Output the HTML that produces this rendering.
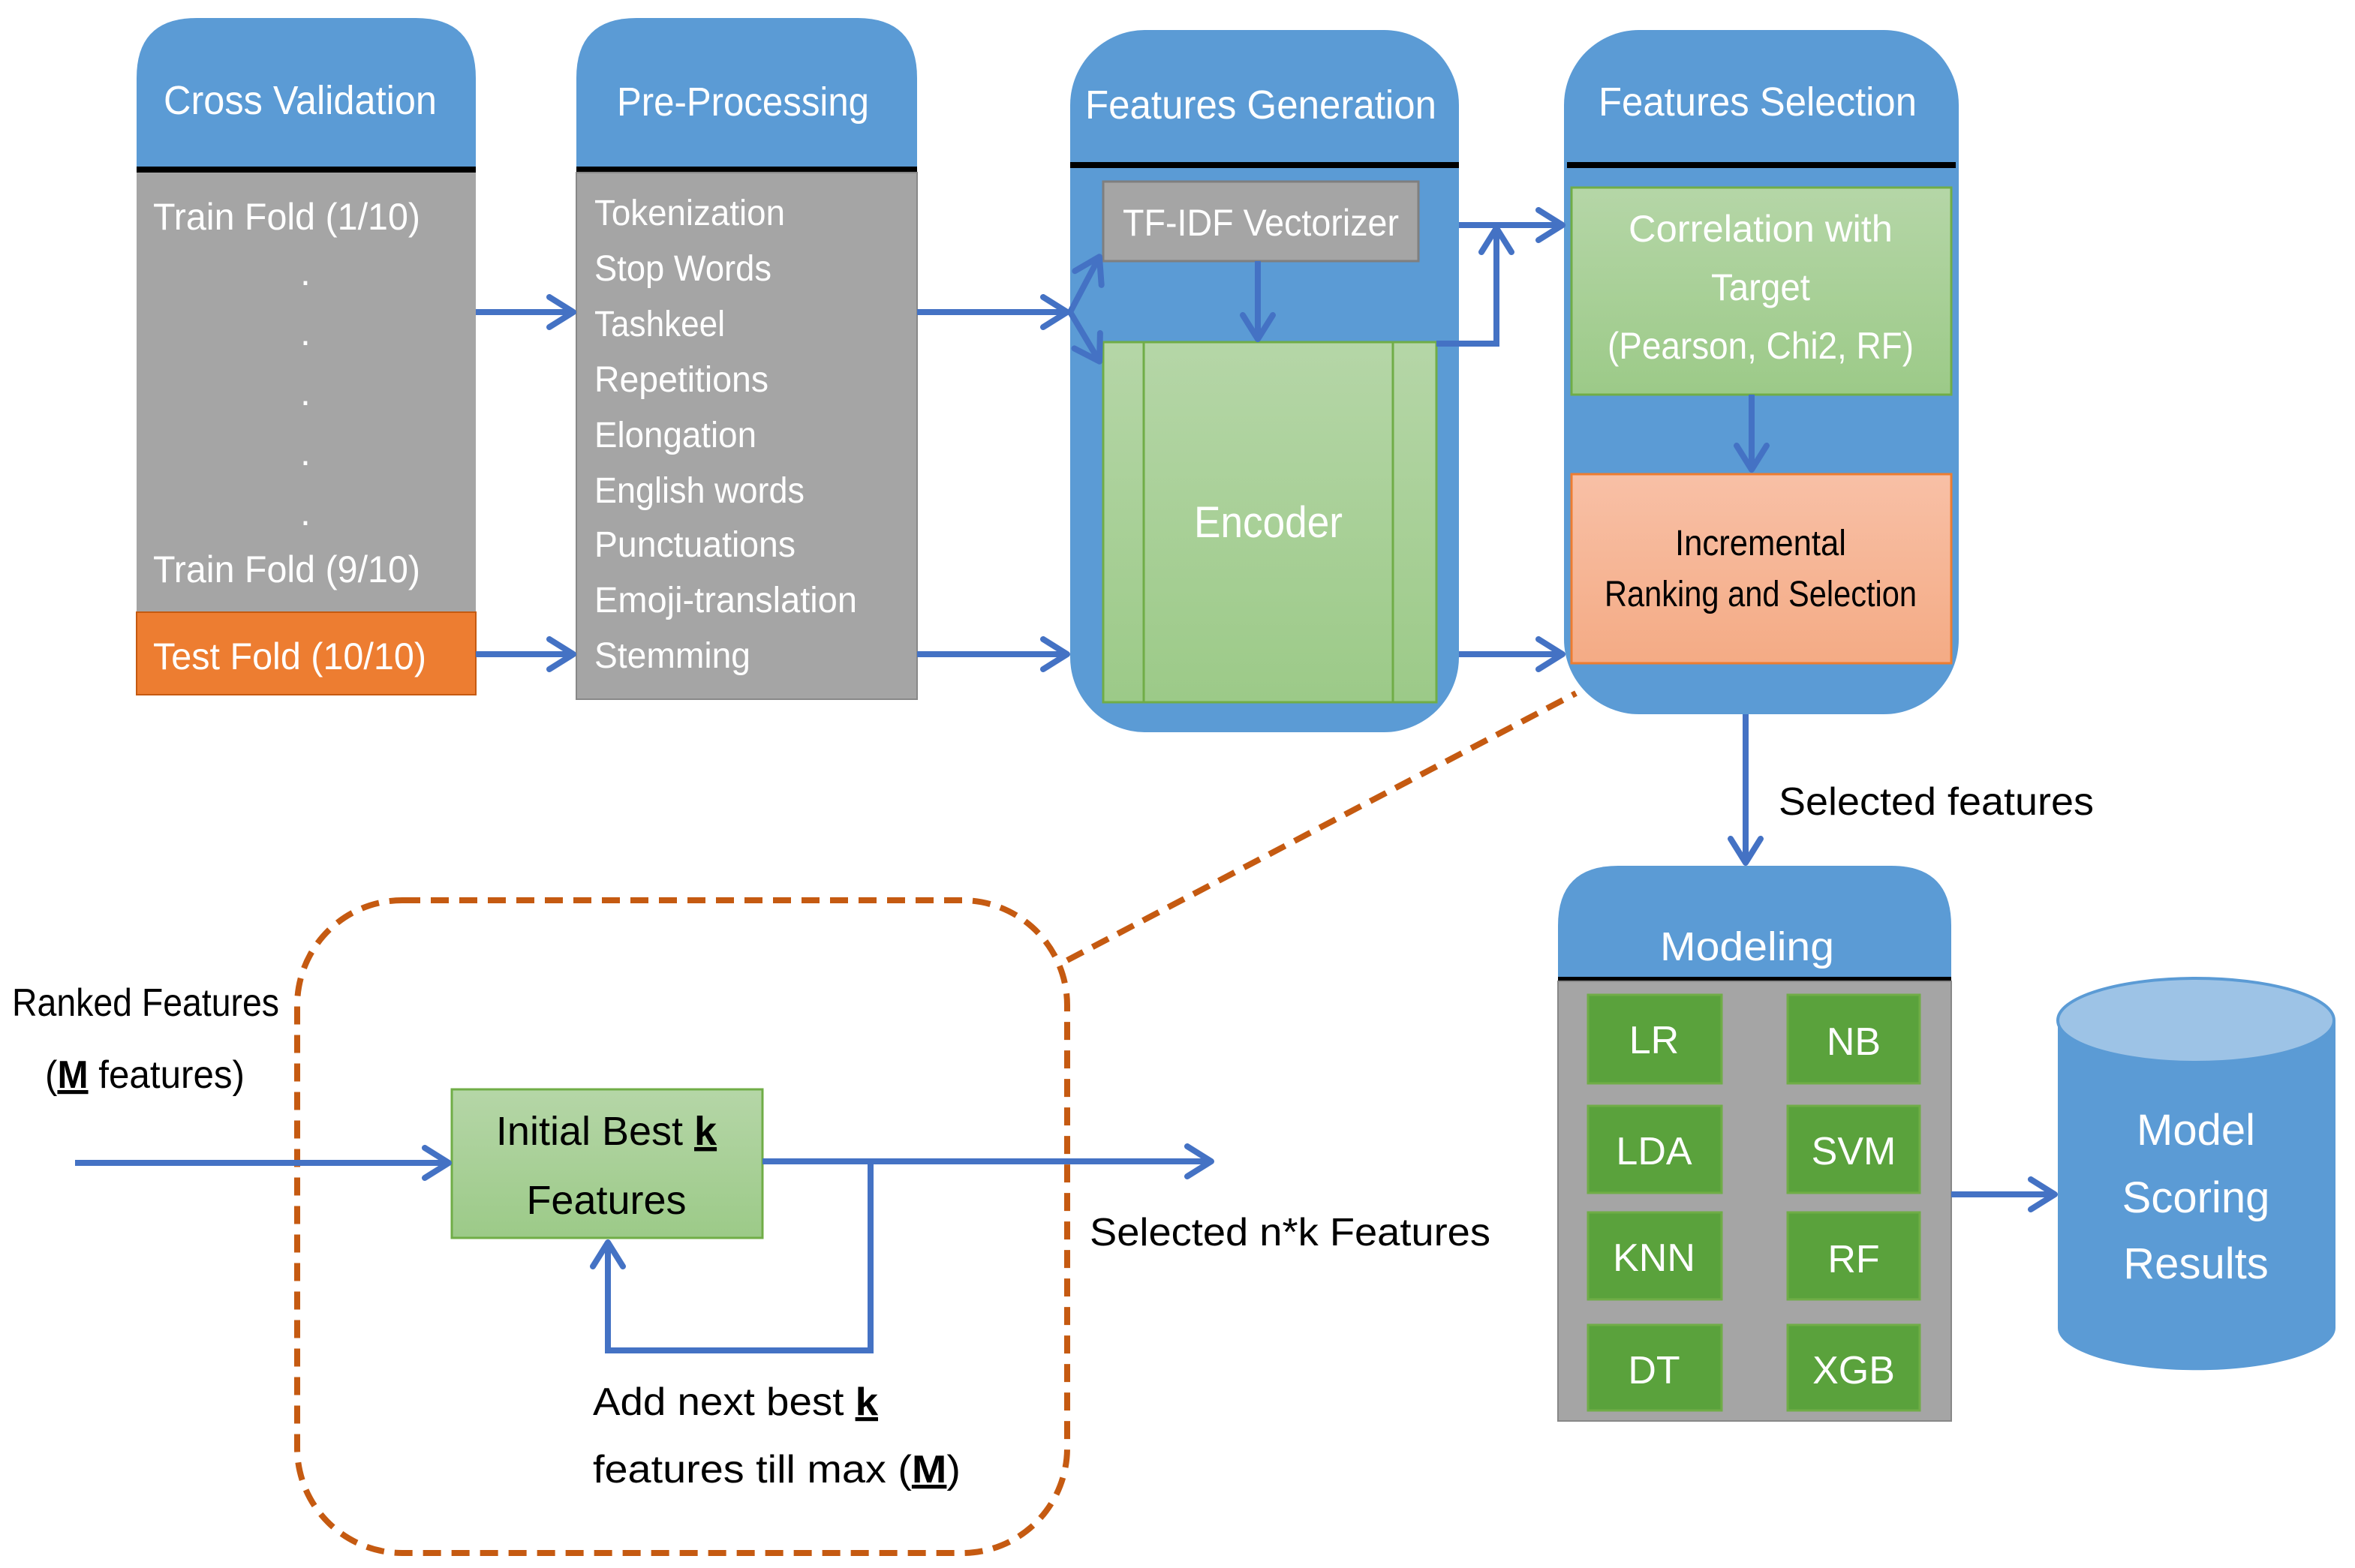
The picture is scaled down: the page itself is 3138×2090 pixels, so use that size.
<!DOCTYPE html>
<html><head><style>html,body{margin:0;padding:0;background:#fff}svg{display:block}text{font-family:"Liberation Sans",sans-serif}</style></head>
<body>
<svg width="3138" height="2090" viewBox="0 0 1569 1045" xmlns="http://www.w3.org/2000/svg">
<defs>
<marker id="b" markerWidth="24" markerHeight="24" refX="17" refY="12" orient="auto" markerUnits="userSpaceOnUse"><path d="M2,2 L18,12 L2,22" fill="none" stroke="#4472C4" stroke-width="4" stroke-linecap="round" stroke-linejoin="round"/></marker>
<linearGradient id="g" x1="0" y1="0" x2="0" y2="1"><stop offset="0" stop-color="#b5d6a7"/><stop offset="1" stop-color="#9cca88"/></linearGradient>
<linearGradient id="o" x1="0" y1="0" x2="0" y2="1"><stop offset="0" stop-color="#f8c0a6"/><stop offset="1" stop-color="#f4ab85"/></linearGradient>
</defs>
<g fill="#5B9BD5">
<path d="M91,113 V52 Q91,12 131,12 H277 Q317,12 317,52 V113Z"/>
<path d="M384,113 V52 Q384,12 424,12 H571 Q611,12 611,52 V113Z"/>
<rect x="713" y="20" width="259" height="468" rx="50"/>
<rect x="1042" y="20" width="263" height="456" rx="50"/>
<path d="M1038,652 V617 Q1038,577 1078,577 H1260 Q1300,577 1300,617 V652Z"/>
</g>
<g stroke="#000" stroke-width="4">
<line x1="91" y1="113" x2="317" y2="113"/><line x1="384" y1="113" x2="611" y2="113"/>
<line x1="713" y1="110" x2="972" y2="110"/><line x1="1044" y1="110" x2="1303" y2="110"/>
<line x1="1038" y1="653" x2="1300" y2="653"/>
</g>
<rect x="91" y="115" width="226" height="293" fill="#a5a5a5"/>
<rect x="91" y="408" width="226" height="55" fill="#ED7D31" stroke="#c55a11"/>
<rect x="384" y="115" width="227" height="351" fill="#a5a5a5" stroke="#888"/>
<rect x="735" y="121" width="210" height="53" fill="#a5a5a5" stroke="#7f7f7f" stroke-width="1.5"/>
<rect x="735" y="228" width="222" height="240" fill="url(#g)" stroke="#70AD47" stroke-width="1.5"/>
<line x1="762" y1="228" x2="762" y2="468" stroke="#70AD47" stroke-width="1.5"/>
<line x1="928" y1="228" x2="928" y2="468" stroke="#70AD47" stroke-width="1.5"/>
<rect x="1047" y="125" width="253" height="138" fill="url(#g)" stroke="#70AD47" stroke-width="1.5"/>
<rect x="1047" y="316" width="253" height="126" fill="url(#o)" stroke="#ED7D31" stroke-width="1.5"/>
<rect x="1038" y="654" width="262" height="293" fill="#a5a5a5" stroke="#888"/>
<g fill="#5aa23c" stroke="#70AD47" stroke-width="1.5">
<rect x="1058" y="663" width="89" height="59"/><rect x="1191" y="663" width="88" height="59"/>
<rect x="1058" y="737" width="89" height="58"/><rect x="1191" y="737" width="88" height="58"/>
<rect x="1058" y="808" width="89" height="58"/><rect x="1191" y="808" width="88" height="58"/>
<rect x="1058" y="883" width="89" height="57"/><rect x="1191" y="883" width="88" height="57"/>
</g>
<path d="M1371,680 V885 A92,28 0 0 0 1556,885 V680Z" fill="#5B9BD5"/>
<ellipse cx="1463" cy="680" rx="92" ry="28" fill="#9dc3e6" stroke="#5B9BD5" stroke-width="2"/>
<rect x="301" y="726" width="207" height="99" fill="url(#g)" stroke="#70AD47" stroke-width="1.5"/>
<g fill="none" stroke="#C55A11" stroke-width="4" stroke-dasharray="12,7">
<rect x="198" y="600" width="513" height="435" rx="70"/>
<line x1="711" y1="640" x2="1050" y2="462"/>
</g>
<g fill="none" stroke="#4472C4" stroke-width="4" marker-end="url(#b)">
<line x1="317" y1="208" x2="381" y2="208"/><line x1="317" y1="436" x2="381" y2="436"/>
<line x1="611" y1="208" x2="710" y2="208"/><line x1="611" y1="436" x2="710" y2="436"/>
<line x1="713" y1="208" x2="732" y2="172"/><line x1="713" y1="208" x2="732" y2="240"/>
<line x1="838" y1="174" x2="838" y2="225"/>
<polyline points="957,229 997,229 997,153"/>
<line x1="972" y1="150" x2="1040" y2="150"/>
<line x1="972" y1="436" x2="1040" y2="436"/>
<line x1="1167" y1="263" x2="1167" y2="312"/>
<line x1="1163" y1="476" x2="1163" y2="574"/>
<line x1="1300" y1="796" x2="1368" y2="796"/>
<line x1="50" y1="775" x2="298" y2="775"/>
<line x1="508" y1="774" x2="806" y2="774"/>
<polyline points="580,774 580,900 405,900 405,829"/>
</g>
<g fill="#fff" font-size="27" text-anchor="middle">
<text x="200" y="76" textLength="182" lengthAdjust="spacingAndGlyphs">Cross Validation</text>
<text x="495" y="77" textLength="168" lengthAdjust="spacingAndGlyphs">Pre-Processing</text>
<text x="840" y="79" textLength="234" lengthAdjust="spacingAndGlyphs">Features Generation</text>
<text x="1171" y="77" textLength="212" lengthAdjust="spacingAndGlyphs">Features Selection</text>
<text x="1164" y="640" textLength="116" lengthAdjust="spacingAndGlyphs">Modeling</text>
<text x="840" y="157" textLength="184" lengthAdjust="spacingAndGlyphs" font-size="25">TF-IDF Vectorizer</text>
<text x="845" y="358" textLength="99" lengthAdjust="spacingAndGlyphs" font-size="29">Encoder</text>
<text x="1173" y="161" font-size="25" textLength="176" lengthAdjust="spacingAndGlyphs">Correlation with</text>
<text x="1173" y="200" font-size="25" textLength="66" lengthAdjust="spacingAndGlyphs">Target</text>
<text x="1173" y="239" font-size="25" textLength="204" lengthAdjust="spacingAndGlyphs">(Pearson, Chi2, RF)</text>
<text x="1463" y="763" font-size="29">Model</text>
<text x="1463" y="808" font-size="29">Scoring</text>
<text x="1463" y="852" font-size="29">Results</text>
<g font-size="26"><text x="1102" y="702">LR</text><text x="1235" y="703">NB</text>
<text x="1102" y="776">LDA</text><text x="1235" y="776">SVM</text>
<text x="1102" y="847">KNN</text><text x="1235" y="848">RF</text>
<text x="1102" y="922">DT</text><text x="1235" y="922">XGB</text></g>
</g>
<g fill="#fff" font-size="25">
<text x="102" y="153" textLength="178" lengthAdjust="spacingAndGlyphs">Train Fold (1/10)</text>
<text x="200" y="190">.</text><text x="200" y="230">.</text><text x="200" y="270">.</text><text x="200" y="310">.</text><text x="200" y="350">.</text>
<text x="102" y="388" textLength="178" lengthAdjust="spacingAndGlyphs">Train Fold (9/10)</text>
<text x="102" y="446" textLength="182" lengthAdjust="spacingAndGlyphs">Test Fold (10/10)</text>
<g font-size="24">
<text x="396" y="150" textLength="127" lengthAdjust="spacingAndGlyphs">Tokenization</text>
<text x="396" y="187" textLength="118" lengthAdjust="spacingAndGlyphs">Stop Words</text>
<text x="396" y="224" textLength="87" lengthAdjust="spacingAndGlyphs">Tashkeel</text>
<text x="396" y="261" textLength="116" lengthAdjust="spacingAndGlyphs">Repetitions</text>
<text x="396" y="298" textLength="108" lengthAdjust="spacingAndGlyphs">Elongation</text>
<text x="396" y="335" textLength="140" lengthAdjust="spacingAndGlyphs">English words</text>
<text x="396" y="371" textLength="134" lengthAdjust="spacingAndGlyphs">Punctuations</text>
<text x="396" y="408" textLength="175" lengthAdjust="spacingAndGlyphs">Emoji-translation</text>
<text x="396" y="445" textLength="104" lengthAdjust="spacingAndGlyphs">Stemming</text>
</g></g>
<g fill="#000" font-size="24" text-anchor="middle">
<text x="1173" y="370" textLength="114" lengthAdjust="spacingAndGlyphs">Incremental</text>
<text x="1173" y="404" textLength="208" lengthAdjust="spacingAndGlyphs">Ranking and Selection</text>
<text x="404" y="763" font-size="27">Initial Best <tspan font-weight="bold" text-decoration="underline">k</tspan></text>
<text x="404" y="809" font-size="27">Features</text>
</g>
<g fill="#000" font-size="26">
<text x="1185" y="543" textLength="210" lengthAdjust="spacingAndGlyphs">Selected features</text>
<text x="8" y="677" textLength="178" lengthAdjust="spacingAndGlyphs">Ranked Features</text>
<text x="30" y="725" textLength="133" lengthAdjust="spacingAndGlyphs">(<tspan font-weight="bold" text-decoration="underline">M</tspan> features)</text>
<text x="726" y="830" textLength="267" lengthAdjust="spacingAndGlyphs">Selected n*k Features</text>
<text x="395" y="943" textLength="190" lengthAdjust="spacingAndGlyphs">Add next best <tspan font-weight="bold" text-decoration="underline">k</tspan></text>
<text x="395" y="988" textLength="245" lengthAdjust="spacingAndGlyphs">features till max (<tspan font-weight="bold" text-decoration="underline">M</tspan>)</text>
</g>
</svg>
</body></html>
